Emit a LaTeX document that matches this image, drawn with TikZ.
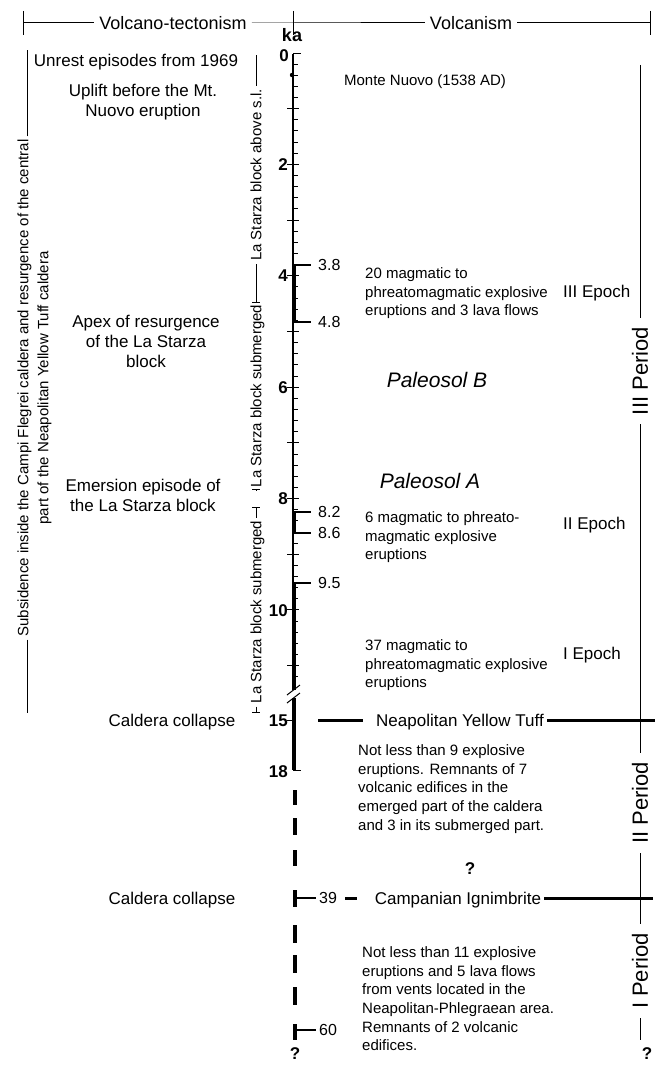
\documentclass[tikz,border=0pt]{standalone}
\usepackage{fontspec}
\setmainfont{Liberation Sans}
\newcommand\ftxt{\fontsize{15}{18.7}\selectfont}
\newcommand\fbigtxt{\fontsize{17}{20}\selectfont}
\newcommand\fhdr{\fontsize{18}{21}\selectfont}
\newcommand\faxis{\fontsize{17}{20}\selectfont\bfseries}
\newcommand\ftick{\fontsize{16}{19}\selectfont}
\newcommand\fper{\fontsize{22}{25}\selectfont}
\newcommand\fpal{\fontsize{21}{24}\selectfont\itshape}
\begin{document}
\begin{tikzpicture}[x=1pt,y=-1pt]
\tikzset{
  rule/.style={line width=1pt},
  axisline/.style={line width=1.3pt},
  heavy/.style={line width=3.5pt},
  hbar/.style={line width=3pt},
  lbl/.style={inner sep=0pt, font=\ftxt, text height=10.8pt, text depth=0pt},
  lblbig/.style={inner sep=0pt, font=\fbigtxt, text height=12.2pt, text depth=0pt},
  hdr/.style={inner sep=0pt, font=\fhdr, text height=12.9pt, text depth=0pt},
  blockleft/.style={inner sep=0pt, font=\ftxt, align=left, anchor=north west},
  blockcentre/.style={inner sep=0pt, font=\fbigtxt, align=center, anchor=north},
  axlbl/.style={inner sep=0pt, font=\faxis, text height=12.2pt, text depth=0pt, anchor=east},
  ticklbl/.style={inner sep=0pt, font=\ftick, text height=11.5pt, text depth=0pt, anchor=west},
  rotlbl/.style={rotate=90, inner xsep=3pt, inner ysep=0pt, font=\ftxt, text height=10.8pt, text depth=0pt},
  period/.style={rotate=90, inner xsep=9pt, inner ysep=0pt, font=\fper, text height=15.8pt, text depth=0pt},
  paleo/.style={inner sep=0pt, font=\fpal, text height=15.1pt, text depth=0pt},
  qmark/.style={inner sep=0pt, font=\faxis, text height=12.2pt, text depth=0pt},
}
\useasboundingbox (0,0) rectangle (659,1065);

% ---------- header ----------
\coordinate (hL) at (23,23);
\coordinate (hM) at (293,23);
\coordinate (hR) at (650,23);
\draw[rule] (23,11) -- (23,35);
\draw[rule] (293,11) -- (293,35);
\draw[rule] (650,11) -- (650,35);
\node[hdr] (vt) at (173,23) {Volcano-tectonism};
\node[hdr] (vc) at (471,23) {Volcanism};
\draw[rule] (hL) -- ([xshift=-5pt]vt.west);
\draw[rule] ([xshift=5pt]vt.east) -- (hM) -- ([xshift=-5pt]vc.west);
\draw[rule] ([xshift=5pt]vc.east) -- (hR);

% ---------- left rotated subsidence text ----------
\node[rotate=90, inner xsep=3pt, inner ysep=0pt, align=center,
      font=\fontsize{15}{20}\selectfont] (sub) at (34.5,388)
  {Subsidence inside the Campi Flegrei caldera and resurgence of the central\\
   part of the Neapolitan Yellow Tuff caldera};
\coordinate (subtop) at (27,50);
\coordinate (subbot) at (27,713);
\draw[rule] (sub.east -| subtop) -- (subtop);
\draw[rule] (sub.west -| subbot) -- (subbot);

% ---------- volcano-tectonism texts ----------
\node[lblbig] (unrest) at (136,60) {Unrest episodes from 1969};
\node[blockcentre] (uplift) at (143,84) {Uplift before the Mt.\\Nuovo eruption};
\node[blockcentre] (apex) at (146,315) {Apex of resurgence\\of the La Starza\\block};
\node[blockcentre] (emer) at (143,479) {Emersion episode of\\the La Starza block};
\node[lblbig] (cc1) at (172,720) {Caldera collapse};
\node[lblbig] (cc2) at (172,898) {Caldera collapse};

% ---------- La Starza column ----------
\node[rotlbl] (ls1) at (256,175) {La Starza block above s.l.};
\node[rotlbl] (ls2) at (256,396) {La Starza block submerged};
\node[rotlbl] (ls3) at (256,612) {La Starza block submerged};
\coordinate (lstop) at (256,55);
\coordinate (lsA) at (256,302);
\coordinate (lsB) at (256,489);
\coordinate (lsC) at (256,507);
\coordinate (lsD) at (256,712);
\draw[rule] (ls1.east) -- (lstop);
\draw[rule] (ls1.west) -- (lsA);
\draw[rule] (ls2.east) -- (lsA);
\draw[rule] (ls2.west) -- (lsB);
\draw[rule] (ls3.east) -- (lsC);
\draw[rule] (ls3.west) -- (lsD);
\foreach \c in {lsA,lsB,lsC,lsD}
  \draw[rule] ([xshift=-4pt]\c) -- ([xshift=4pt]\c);

% ---------- time axis ----------
\node[inner sep=0pt, font=\fontsize{18}{21}\selectfont\bfseries, text height=13pt, text depth=0pt] (ka) at (292,35) {ka};
\coordinate (ax0) at (293,54);
\coordinate (axbrk) at (293,690);
\coordinate (axres) at (293,698);
\coordinate (ax18) at (293,770);
\draw[axisline] (ax0) -- (axbrk);
\draw[rule] (293,54) -- (301,54);
\foreach \i in {1,...,56} {
  \pgfmathsetmacro\yy{53+55.7*0.2*\i}
  \pgfmathtruncatemacro\isint{mod(\i,5)==0 ? 1 : 0}
  \ifnum\isint=1
    \draw[rule] (287,\yy) -- (299,\yy);
  \else
    \draw[rule] (293,\yy) -- (298,\yy);
  \fi
}
\fill (292,75) circle (2.2);
\node[axlbl] (l0) at (289,55) {0};
\node[axlbl] (l2) at (288,164.4) {2};
\node[axlbl] (l4) at (288,275.8) {4};
\node[axlbl] (l6) at (288,387.2) {6};
\node[axlbl] (l8) at (288,498.6) {8};
\node[axlbl] (l10) at (288,610) {10};
\node[axlbl] (l15) at (288,720) {15};
\node[axlbl] (l18) at (288,771) {18};

% eruptive intervals
\draw[heavy] (294,265) -- (294,322);
\draw[line width=1.5pt] (293,265) -- (311,265);
\draw[line width=1.5pt] (293,322) -- (311,322);
\node[ticklbl] (t38) at (318,265) {3.8};
\node[ticklbl] (t48) at (318,322) {4.8};
\draw[heavy] (294,512) -- (294,533);
\draw[line width=1.5pt] (293,512) -- (311,512);
\draw[line width=1.5pt] (293,533) -- (311,533);
\node[ticklbl] (t82) at (318,512) {8.2};
\node[ticklbl] (t86) at (318,533) {8.6};
\draw[heavy] (294,583) -- (294,690);
\draw[line width=1.5pt] (293,583) -- (311,583);
\node[ticklbl] (t95) at (318,583) {9.5};

% break
\draw[rule] (287,695) -- (300,685);
\draw[rule] (287,703) -- (300,693);
\draw[heavy] (294,698) -- (294,770);
\draw[rule] (287,720) -- (293,720);
\draw[rule] (293,770) -- (301,770);

% dashed older part
\foreach \a/\b in {790/805,818/835,850/866,890/907,925/943,955/973,987/1005,1024/1040}
  \draw[line width=3.5pt] (295,\a) -- (295,\b);
\draw[line width=1.5pt] (295,898) -- (316,898);
\draw[line width=1.5pt] (295,1030) -- (316,1030);
\node[lbl, font=\ftick, text height=11.5pt] (t39) at (328,898) {39};
\node[lbl, font=\ftick, text height=11.5pt] (t60) at (328,1030) {60};
\node[qmark] (qax) at (295,1053) {?};

% ---------- volcanism texts ----------
\node[lbl] (monte) at (425,80) {Monte Nuovo (1538 AD)};
\node[blockleft] (b3) at (365,267.4) {20 magmatic to\\phreatomagmatic explosive\\eruptions and 3 lava flows};
\node[lblbig, anchor=west] (e3) at (563,291) {III Epoch};
\node[paleo] (pB) at (437,380) {Paleosol B};
\node[paleo] (pA) at (430,481) {Paleosol A};
\node[blockleft] (b2) at (365,511.4) {6 magmatic to phreato-\\magmatic explosive\\eruptions};
\node[lblbig, anchor=west] (e2) at (563,523) {II Epoch};
\node[blockleft] (b1) at (365,639.4) {37 magmatic to\\phreatomagmatic explosive\\eruptions};
\node[lblbig, anchor=west] (e1) at (563,653) {I Epoch};

\node[lblbig] (nyt) at (460,720) {Neapolitan Yellow Tuff};
\coordinate (nytA) at (318,720);
\coordinate (nytB) at (363,720);
\coordinate (nytR) at (655,720);
\draw[hbar] (nytA) -- (nytB);
\draw[hbar] ([xshift=3pt]nyt.east) -- (nytR);
\node[blockleft] (bnyt) at (358,744.4) {Not less than 9 explosive\\eruptions. Remnants of 7\\volcanic edifices in the\\emerged part of the caldera\\and 3 in its submerged part.};
\node[qmark] (qmid) at (470,868) {?};

\node[lblbig] (ci) at (458,898) {Campanian Ignimbrite};
\coordinate (ciA) at (345,898);
\coordinate (ciB) at (357,898);
\coordinate (ciR) at (653,898);
\draw[hbar] (ciA) -- (ciB);
\draw[hbar] ([xshift=3pt]ci.east) -- (ciR);
\node[blockleft] (bci) at (362,946.4) {Not less than 11 explosive\\eruptions and 5 lava flows\\from vents located in the\\Neapolitan-Phlegraean area.\\Remnants of 2 volcanic\\edifices.};

% ---------- periods ----------
\node[period] (p3) at (640,371) {III Period};
\node[period] (p2) at (640,803) {II Period};
\node[period] (p1) at (640,971) {I Period};
\coordinate (ptop) at (640,65);
\coordinate (pbot) at (640,1040);
\draw[rule] (ptop) -- (p3.east);
\draw[rule] (p3.west) -- (p2.east);
\draw[rule] (p2.west) -- (p1.east);
\draw[rule] (p1.west) -- (pbot);
\node[qmark] (qright) at (647,1053) {?};
\end{tikzpicture}
\end{document}
